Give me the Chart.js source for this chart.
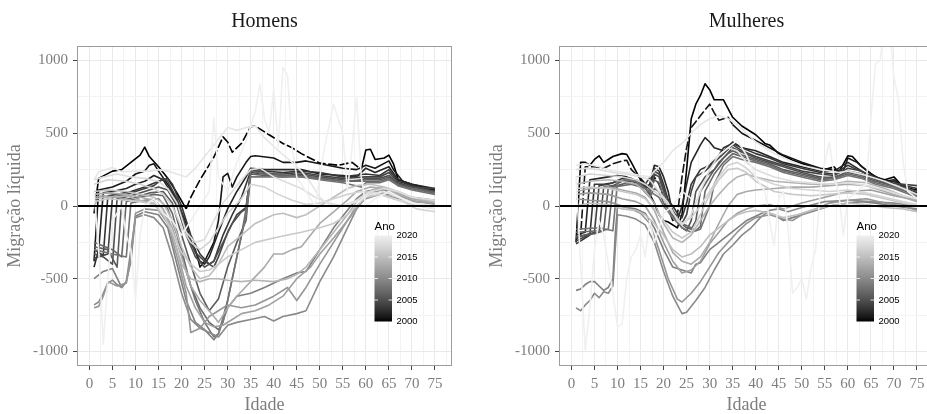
<!DOCTYPE html>
<html lang="pt">
<head>
<meta charset="utf-8">
<script src="https://cdn.jsdelivr.net/npm/chart.js@4.4.1/dist/chart.umd.min.js"></script>
<style>
  html, body { margin: 0; padding: 0; background: #fff; overflow: hidden; }
  body { width: 927px; height: 414px; position: relative; }
  .painel { position: absolute; top: 0; width: 463px; height: 414px; }
  #painelHomens { left: 0; }
  #painelMulheres { left: 482px; }
</style>
</head>
<body>
<div class="painel" id="painelHomens"><canvas id="graficoHomens" width="463" height="414"></canvas></div>
<div class="painel" id="painelMulheres"><canvas id="graficoMulheres" width="463" height="414"></canvas></div>
<script>
const anos = [2000, 2001, 2002, 2003, 2004, 2005, 2006, 2007, 2008, 2009, 2010,
              2011, 2012, 2013, 2014, 2015, 2016, 2017, 2018, 2019, 2020];
const anoRotulos = [2000, 2005, 2010, 2015, 2020];

const idadeRotulos = [0, 5, 10, 15, 20, 25, 30, 35, 40, 45, 50, 55, 60, 65, 70, 75];
const idadeGradeMenor = [-2.5, 2.5, 7.5, 12.5, 17.5, 22.5, 27.5, 32.5, 37.5, 42.5, 47.5, 52.5, 57.5, 62.5, 67.5, 72.5, 77.5];
const migracaoRotulos = [-1000, -500, 0, 500, 1000];
const migracaoGradeMenor = [-750, -250, 250, 750];

// [idade, migração líquida] por ano — homens
const homens2000 = [[1,-50],[2,190],[5,240],[7,250],[9,300],[11,350],[12,405],[13,340],[15,270],[17,190],[19,90],[21,-20],[22,60],[24,180],[27,335],[29,475],[30,440],[31,370],[33,430],[35,545],[36,550],[39,490],[42,430],[44,400],[46,360],[50,295],[54,280],[57,300],[59,250],[60,385],[61,390],[62,320],[64,330],[65,350],[66,290],[67,180],[70,150],[75,110]];
const homens2001 = [[1,-380],[2,110],[5,130],[8,170],[10,220],[12,240],[13,280],[14,290],[15,240],[17,150],[19,40],[21,-120],[22,-250],[23,-300],[24,-420],[25,-380],[27,-250],[28,-100],[29,200],[30,225],[31,130],[32,200],[34,300],[35,340],[36,345],[40,330],[42,300],[45,300],[47,310],[50,290],[55,260],[58,250],[60,280],[62,260],[65,310],[66,250],[68,170],[70,140],[75,110]];
const homens2002 = [[1,-420],[2,-300],[3,90],[5,100],[8,120],[10,150],[12,170],[14,210],[16,180],[18,80],[20,-60],[22,-250],[24,-380],[25,-400],[26,-350],[28,-180],[30,-20],[32,100],[34,200],[35,260],[38,250],[42,250],[46,250],[50,220],[55,210],[58,200],[60,260],[62,230],[65,270],[67,180],[70,150],[75,120]];
const homens2003 = [[1,-300],[3,-340],[4,70],[6,80],[9,100],[12,130],[15,170],[17,190],[18,150],[20,0],[22,-200],[24,-330],[26,-400],[27,-380],[29,-200],[31,-60],[33,60],[34,150],[35,240],[38,240],[42,230],[46,240],[50,230],[55,200],[60,220],[63,210],[65,250],[67,170],[70,140],[75,100]];
const homens2004 = [[1,-360],[4,-330],[5,60],[8,80],[11,110],[14,140],[16,190],[17,170],[19,50],[21,-150],[23,-320],[25,-380],[27,-420],[28,-350],[30,-180],[32,-60],[34,-10],[35,230],[38,220],[42,220],[46,230],[50,210],[55,190],[60,200],[63,200],[65,230],[67,160],[70,130],[75,120]];
const homens2005 = [[1,-330],[3,-350],[5,-400],[6,50],[9,70],[12,100],[15,130],[17,110],[19,0],[21,-200],[23,-350],[25,-420],[27,-380],[29,-250],[31,-120],[33,-40],[34,-20],[35,250],[38,230],[42,210],[46,220],[50,200],[55,180],[58,170],[60,190],[63,190],[65,210],[67,150],[70,130],[75,100]];
const homens2006 = [[1,-280],[4,-300],[6,-420],[7,40],[10,60],[13,90],[16,100],[18,20],[20,-200],[22,-400],[24,-600],[26,-720],[28,-640],[30,-420],[32,-250],[34,-100],[35,220],[38,210],[42,200],[46,210],[50,190],[55,170],[60,180],[63,180],[65,200],[67,150],[70,120],[75,90]];
const homens2007 = [[1,-250],[5,-300],[7,-350],[8,30],[11,60],[14,80],[16,70],[18,-50],[20,-300],[22,-550],[24,-700],[26,-800],[28,-850],[29,-800],[31,-500],[33,-200],[34,-20],[35,240],[38,220],[42,210],[46,200],[50,190],[55,170],[60,170],[63,170],[65,190],[67,140],[70,120],[75,90]];
const homens2008 = [[1,-300],[5,-330],[8,-350],[9,20],[12,40],[15,50],[17,-20],[19,-200],[21,-450],[23,-650],[25,-800],[27,-900],[28,-880],[30,-650],[32,-350],[34,-60],[35,200],[38,200],[42,200],[46,200],[50,180],[55,160],[59,130],[60,160],[63,160],[65,180],[67,140],[70,110],[75,80]];
const homens2009 = [[1,-500],[3,-450],[5,-430],[7,-560],[8,-520],[9,-380],[10,-70],[12,-40],[15,-60],[17,-150],[19,-400],[21,-650],[23,-800],[25,-850],[27,-920],[28,-880],[30,-700],[32,-620],[35,-600],[38,-560],[42,-500],[45,-460],[47,-450],[50,-300],[53,-150],[56,-30],[58,50],[60,100],[63,120],[65,100],[70,60],[75,40]];
const homens2010 = [[1,-680],[2,-660],[3,-600],[4,-530],[5,-510],[6,-540],[7,-560],[8,-520],[9,-300],[10,-80],[12,-60],[14,-80],[16,-150],[18,-350],[20,-600],[22,-780],[24,-840],[26,-870],[28,-900],[30,-820],[32,-800],[35,-780],[38,-760],[40,-790],[42,-760],[45,-740],[47,-720],[50,-520],[53,-350],[56,-150],[58,-20],[60,60],[62,100],[65,80],[70,50],[75,30]];
const homens2011 = [[1,-700],[2,-690],[3,-620],[4,-520],[6,-550],[8,-530],[9,-350],[10,-50],[12,-20],[15,-30],[17,-120],[19,-350],[21,-600],[22,-870],[24,-840],[26,-760],[28,-720],[30,-680],[33,-700],[36,-680],[40,-620],[43,-560],[45,-650],[47,-560],[50,-400],[53,-250],[56,-100],[58,0],[60,50],[63,80],[66,60],[70,30],[75,20]];
const homens2012 = [[1,60],[3,70],[6,60],[9,40],[12,30],[15,0],[17,-100],[19,-300],[21,-550],[23,-700],[25,-800],[27,-830],[29,-820],[31,-780],[33,-740],[36,-720],[39,-680],[42,-620],[45,-500],[48,-420],[50,-330],[53,-220],[56,-100],[58,-20],[60,60],[63,110],[66,80],[70,40],[75,10]];
const homens2013 = [[1,80],[4,90],[8,80],[11,60],[14,40],[16,-20],[18,-150],[20,-350],[22,-550],[24,-650],[26,-720],[28,-800],[30,-700],[32,-620],[35,-520],[38,-420],[40,-330],[42,-330],[44,-300],[46,-280],[48,-200],[50,-120],[53,-40],[56,40],[58,100],[61,130],[64,120],[67,80],[70,50],[75,20]];
const homens2014 = [[1,50],[4,60],[8,70],[11,40],[14,20],[16,-40],[18,-200],[20,-400],[22,-500],[24,-520],[26,-500],[28,-500],[30,-510],[33,-520],[36,-510],[40,-520],[43,-500],[45,-470],[47,-420],[50,-300],[53,-180],[56,-60],[58,30],[60,90],[63,130],[66,100],[70,60],[75,30]];
const homens2015 = [[1,100],[4,110],[8,100],[11,80],[14,60],[16,20],[18,-100],[20,-280],[22,-420],[24,-500],[26,-480],[28,-400],[30,-280],[33,-200],[36,-120],[40,-60],[42,-50],[45,-80],[47,-60],[50,0],[53,60],[56,120],[58,140],[61,150],[64,130],[67,100],[70,60],[75,30]];
const homens2016 = [[1,30],[4,50],[8,40],[11,30],[14,10],[16,-60],[18,-180],[20,-320],[22,-400],[24,-450],[26,-440],[28,-400],[30,-350],[33,-300],[36,-250],[40,-220],[43,-200],[46,-180],[50,-150],[53,-120],[56,-60],[58,0],[60,60],[63,80],[66,50],[70,10],[75,-20]];
const homens2017 = [[1,150],[4,180],[8,170],[11,150],[14,120],[16,80],[18,0],[20,-150],[22,-250],[24,-300],[26,-250],[28,-150],[30,-50],[33,50],[35,150],[38,130],[41,80],[44,40],[47,10],[50,20],[53,50],[56,80],[59,100],[62,90],[65,60],[68,30],[71,-20],[75,-40]];
const homens2018 = [[1,180],[3,200],[6,220],[9,200],[12,190],[15,170],[17,120],[19,20],[21,-180],[23,-250],[25,-230],[27,-100],[29,20],[31,100],[33,180],[35,250],[37,260],[40,200],[43,160],[46,120],[49,60],[52,20],[55,0],[58,40],[61,100],[64,120],[67,100],[70,60],[75,40]];
const homens2019 = [[1,180],[2,235],[5,265],[7,235],[10,240],[13,240],[15,250],[17,240],[19,220],[21,200],[23,260],[25,340],[27,420],[29,500],[30,540],[32,520],[34,540],[36,550],[38,470],[41,380],[44,300],[46,240],[48,160],[50,60],[52,10],[55,0],[58,30],[61,80],[64,100],[67,60],[70,20],[75,0]];
const homens2020 = [[1,100],[2,-300],[3,-950],[4,-500],[5,-100],[7,0],[8,-200],[9,-300],[10,-640],[11,-200],[12,0],[14,50],[16,-50],[18,-100],[20,-200],[22,-100],[24,0],[26,100],[27,610],[28,200],[30,100],[32,300],[34,450],[36,650],[37,840],[38,600],[39,500],[40,808],[41,400],[42,954],[43,900],[44,400],[45,200],[47,100],[49,0],[51,400],[53,700],[55,500],[56,100],[57,400],[58,750],[59,200],[60,0],[62,50],[65,100],[68,50],[72,0],[75,-20]];

// [idade, migração líquida] por ano — mulheres
const mulheres2000 = [[1,-250],[2,300],[3,300],[4,280],[5,320],[6,345],[7,300],[8,320],[9,340],[11,360],[12,355],[13,300],[14,240],[15,180],[17,80],[18,20],[19,-60],[20,-100],[21,-110],[23,-150],[24,-60],[25,250],[26,600],[27,700],[28,760],[29,840],[30,800],[31,730],[33,730],[35,610],[37,550],[40,490],[42,430],[43,420],[45,360],[48,315],[52,270],[55,250],[57,270],[58,230],[60,345],[61,340],[63,270],[66,200],[68,180],[70,200],[72,130],[75,110]];
const mulheres2001 = [[1,-230],[2,-200],[3,270],[5,270],[7,260],[9,290],[11,310],[12,315],[13,250],[15,190],[17,120],[18,200],[19,150],[20,60],[21,-20],[22,-100],[23,-60],[24,200],[25,400],[26,540],[27,580],[28,620],[29,660],[30,700],[31,640],[32,590],[34,610],[35,560],[37,500],[40,450],[43,400],[46,350],[50,300],[54,260],[57,250],[59,240],[60,330],[62,300],[65,220],[68,170],[70,180],[72,130],[75,100]];
const mulheres2002 = [[1,-200],[3,-180],[4,180],[6,190],[8,200],[10,210],[12,200],[14,170],[16,120],[17,150],[18,280],[19,270],[20,200],[21,100],[22,-60],[23,-100],[24,0],[25,150],[26,300],[28,420],[29,470],[30,440],[31,400],[33,380],[35,440],[37,400],[40,380],[43,340],[46,300],[50,270],[54,240],[57,240],[60,300],[62,260],[65,200],[68,160],[70,170],[75,90]];
const mulheres2003 = [[1,-260],[4,-200],[5,150],[7,150],[9,160],[11,190],[13,190],[15,160],[17,120],[18,260],[19,240],[20,150],[21,40],[22,0],[23,-50],[24,-80],[25,20],[26,150],[27,200],[28,250],[30,280],[32,350],[33,400],[35,430],[37,400],[40,360],[43,330],[46,290],[50,260],[54,230],[57,220],[60,280],[62,250],[65,210],[68,170],[71,150],[75,120]];
const mulheres2004 = [[1,-240],[5,-180],[6,140],[8,150],[10,170],[12,180],[14,180],[16,150],[18,240],[19,220],[20,120],[21,40],[22,-30],[23,-80],[24,-120],[25,-60],[26,100],[27,200],[29,240],[31,300],[33,360],[35,420],[37,380],[40,340],[43,310],[46,280],[50,240],[54,220],[57,210],[60,260],[63,240],[66,190],[69,160],[72,150],[75,140]];
const mulheres2005 = [[1,-220],[4,-190],[6,-180],[7,130],[9,140],[11,170],[13,170],[15,150],[17,100],[18,220],[19,200],[20,100],[21,0],[22,-60],[24,-150],[25,-170],[26,-100],[27,100],[29,200],[31,250],[33,330],[35,400],[37,370],[40,330],[43,300],[46,270],[50,230],[54,200],[57,190],[60,240],[63,220],[66,180],[69,150],[72,130],[75,100]];
const mulheres2006 = [[1,-210],[5,-190],[7,-170],[8,130],[10,140],[12,160],[14,150],[16,120],[17,80],[18,180],[19,160],[20,60],[21,-20],[23,-100],[25,-150],[26,-160],[27,-100],[28,100],[30,200],[32,300],[34,360],[35,380],[37,350],[40,320],[43,290],[46,250],[50,220],[54,190],[57,200],[60,230],[63,210],[66,170],[70,140],[75,80]];
const mulheres2007 = [[1,-180],[6,-170],[8,-160],[9,130],[11,140],[13,150],[15,130],[17,60],[18,120],[19,100],[20,20],[22,-60],[24,-120],[26,-150],[27,-170],[28,-140],[29,100],[31,220],[33,300],[35,360],[37,340],[40,310],[43,280],[46,240],[50,210],[54,180],[57,190],[60,220],[63,200],[66,160],[70,130],[75,70]];
const mulheres2008 = [[1,-160],[6,-150],[9,-170],[10,170],[12,180],[14,170],[16,120],[18,80],[19,60],[20,0],[22,-80],[24,-150],[26,-180],[28,-160],[30,0],[31,150],[33,280],[35,340],[37,320],[40,300],[43,270],[46,230],[50,200],[54,170],[57,180],[60,210],[63,190],[66,150],[70,120],[75,60]];
const mulheres2009 = [[1,-580],[2,-570],[3,-540],[4,-520],[5,-520],[6,-550],[7,-580],[8,-560],[9,-500],[9.5,-200],[10,0],[12,-10],[14,-20],[16,-50],[18,-150],[20,-300],[22,-420],[24,-440],[26,-460],[27,-400],[28,-390],[30,-300],[32,-250],[34,-200],[36,-150],[38,-100],[40,-70],[42,-40],[44,-60],[46,-100],[48,-80],[50,-60],[53,-30],[56,0],[60,20],[63,30],[66,20],[70,0],[75,-20]];
const mulheres2010 = [[1,-700],[2,-720],[3,-680],[4,-650],[5,-600],[6,-630],[7,-590],[8,-600],[9,-550],[9.5,-300],[10,-60],[12,-70],[14,-90],[16,-130],[18,-250],[20,-450],[22,-620],[24,-740],[25,-730],[27,-650],[29,-560],[31,-440],[33,-330],[35,-270],[37,-200],[39,-150],[41,-80],[43,-30],[45,-20],[47,-40],[50,-10],[55,30],[60,40],[65,30],[70,20],[75,0]];
const mulheres2011 = [[1,50],[4,40],[8,30],[11,0],[13,-20],[15,-50],[17,-120],[19,-300],[21,-500],[23,-640],[24,-660],[26,-600],[28,-520],[30,-420],[32,-320],[34,-250],[36,-180],[38,-120],[40,-80],[43,-60],[46,-90],[48,-100],[50,-60],[53,-20],[56,20],[60,40],[64,50],[68,20],[72,0],[75,-30]];
const mulheres2012 = [[1,80],[4,90],[8,80],[11,50],[14,30],[16,0],[18,-100],[20,-250],[22,-380],[24,-460],[26,-440],[28,-380],[30,-260],[32,-180],[34,-100],[36,-50],[38,-20],[40,0],[43,10],[46,-20],[50,20],[55,60],[60,100],[65,110],[70,70],[75,40]];
const mulheres2013 = [[1,100],[4,120],[8,130],[11,110],[14,90],[16,60],[18,-30],[20,-180],[22,-320],[24,-380],[26,-400],[28,-350],[30,-250],[32,-120],[34,0],[36,80],[38,100],[40,110],[44,120],[48,130],[52,130],[56,140],[60,150],[64,140],[68,100],[72,60],[75,30]];
const mulheres2014 = [[1,150],[4,170],[8,180],[11,170],[14,150],[16,100],[18,20],[20,-120],[22,-220],[24,-250],[26,-200],[28,-100],[30,0],[32,80],[34,150],[36,200],[38,220],[40,200],[44,170],[48,160],[52,150],[56,150],[60,170],[64,160],[68,120],[72,70],[75,40]];
const mulheres2015 = [[1,0],[4,20],[8,10],[11,-20],[14,-30],[16,-60],[18,-120],[20,-200],[22,-300],[24,-350],[26,-330],[28,-280],[30,-200],[32,-150],[34,-100],[36,-60],[38,-40],[40,-30],[43,-50],[46,-80],[49,-60],[52,-30],[56,0],[60,20],[64,10],[68,-10],[72,-20],[75,-40]];
const mulheres2016 = [[1,120],[4,130],[8,120],[11,100],[14,80],[16,50],[18,-20],[20,-100],[22,-180],[24,-220],[26,-180],[28,-60],[30,80],[32,180],[34,250],[36,260],[38,230],[40,170],[44,100],[48,80],[52,70],[56,80],[60,90],[64,80],[68,50],[72,20],[75,0]];
const mulheres2017 = [[1,200],[4,220],[8,210],[11,200],[14,180],[16,150],[18,100],[20,50],[22,-50],[24,-120],[26,-80],[28,0],[30,100],[32,200],[34,280],[36,300],[38,260],[40,200],[44,150],[48,120],[52,110],[56,100],[60,110],[64,90],[68,60],[72,30],[75,10]];
const mulheres2018 = [[1,250],[3,260],[6,250],[9,230],[12,220],[15,200],[17,180],[19,100],[21,20],[23,-100],[24,-130],[26,-60],[28,100],[30,250],[32,350],[34,400],[36,380],[38,300],[40,250],[44,200],[48,170],[52,160],[56,150],[60,160],[64,140],[68,110],[72,70],[75,50]];
const mulheres2019 = [[1,280],[3,290],[6,270],[9,240],[12,230],[15,210],[17,200],[18,240],[20,300],[22,380],[24,430],[26,500],[28,560],[30,600],[32,620],[34,600],[36,560],[38,500],[40,440],[43,380],[46,330],[50,280],[54,250],[58,230],[60,240],[64,210],[68,170],[72,120],[75,80]];
const mulheres2020 = [[1,200],[2,-400],[3,-990],[4,-700],[5,-300],[6,-100],[7,-200],[8,-400],[9,-600],[10,-830],[11,-810],[12,-500],[13,-350],[14,-300],[15,-200],[16,-350],[17,-100],[18,-250],[19,-150],[20,-50],[22,0],[24,100],[26,50],[28,200],[30,300],[32,350],[34,400],[36,450],[38,350],[40,200],[42,100],[43,-100],[44,-270],[45,50],[46,100],[47,-150],[48,-600],[49,-560],[50,-500],[51,-640],[52,-430],[53,-300],[54,100],[55,300],[56,440],[57,200],[58,100],[59,-200],[60,50],[62,100],[64,150],[65,600],[66,977],[67,1000],[68,1250],[69,1250],[70,885],[71,726],[72,300],[73,100],[75,50]];

const homens = [homens2000, homens2001, homens2002, homens2003, homens2004, homens2005, homens2006,
  homens2007, homens2008, homens2009, homens2010, homens2011, homens2012, homens2013, homens2014,
  homens2015, homens2016, homens2017, homens2018, homens2019, homens2020];
const mulheres = [mulheres2000, mulheres2001, mulheres2002, mulheres2003, mulheres2004, mulheres2005,
  mulheres2006, mulheres2007, mulheres2008, mulheres2009, mulheres2010, mulheres2011, mulheres2012,
  mulheres2013, mulheres2014, mulheres2015, mulheres2016, mulheres2017, mulheres2018, mulheres2019, mulheres2020];

const fonteSerif = '"Liberation Serif", "DejaVu Serif", serif';
const fonteSans = '"Liberation Sans", Arial, sans-serif';
const cinzaTexto = '#7d7d7d';

// escala de cinza do preto (2000) ao quase branco (2020), clareando os tons médios
function corAno(ano) {
  const t = (ano - anos[0]) / (anos[anos.length - 1] - anos[0]);
  const g = Math.round(Math.pow(t, 0.8) * 240);
  return `rgb(${g},${g},${g})`;
}

// trechos tracejados de algumas séries escuras
const tracejados = {
  homens2000: [21, 59],
  mulheres2001: [1, 35]
};

function series(lista, prefixo) {
  return lista.map((pontos, i) => {
    const faixa = tracejados[prefixo + anos[i]];
    return {
      label: String(anos[i]),
      data: pontos,
      borderColor: corAno(anos[i]),
      borderWidth: 1.6,
      borderJoinStyle: 'round',
      pointRadius: 0,
      tension: 0,
      order: anos.length - 1 - i,
      segment: faixa ? {
        borderDash: c => (c.p0.parsed.x >= faixa[0] && c.p1.parsed.x <= faixa[1]) ? [9, 2.5] : undefined
      } : undefined
    };
  });
}

// linha do zero e contorno do painel
const moldura = {
  id: 'moldura',
  afterDatasetsDraw(chart) {
    const { ctx, chartArea: a, scales: { y } } = chart;
    const y0 = y.getPixelForValue(0);
    ctx.save();
    ctx.strokeStyle = '#000';
    ctx.lineWidth = 2.2;
    ctx.beginPath();
    ctx.moveTo(a.left, y0);
    ctx.lineTo(a.right, y0);
    ctx.stroke();
    ctx.strokeStyle = '#9c9c9c';
    ctx.lineWidth = 1;
    ctx.strokeRect(a.left + 0.5, a.top + 0.5, a.width - 1, a.height - 1);
    ctx.restore();
  }
};

// barra de cores da legenda "Ano"
const barraAno = {
  id: 'barraAno',
  afterDraw(chart) {
    const { ctx, chartArea: a } = chart;
    const x0 = a.right - 77.5, w = 17.5;
    const topo = a.top + 189.5, base = a.top + 275.5;
    const primeiro = anos[0], ultimo = anos[anos.length - 1];
    ctx.save();
    const grad = ctx.createLinearGradient(0, base, 0, topo);
    anos.forEach(ano => grad.addColorStop((ano - primeiro) / (ultimo - primeiro), corAno(ano)));
    ctx.fillStyle = grad;
    ctx.fillRect(x0, topo, w, base - topo);
    ctx.strokeStyle = 'rgba(255,255,255,0.8)';
    ctx.lineWidth = 1;
    ctx.fillStyle = '#000';
    ctx.font = `11.5px ${fonteSans}`;
    ctx.textBaseline = 'alphabetic';
    ctx.fillText('Ano', x0, topo - 6);
    ctx.font = `9.5px ${fonteSans}`;
    ctx.textBaseline = 'middle';
    anoRotulos.forEach(ano => {
      const yy = base - (ano - primeiro) / (ultimo - primeiro) * (base - topo);
      if (ano !== primeiro && ano !== ultimo) {
        ctx.beginPath();
        ctx.moveTo(x0, yy); ctx.lineTo(x0 + 3.5, yy);
        ctx.moveTo(x0 + w - 3.5, yy); ctx.lineTo(x0 + w, yy);
        ctx.stroke();
      }
      ctx.fillText(String(ano), x0 + w + 4.5, yy);
    });
    ctx.restore();
  }
};

function opcoes(titulo) {
  const ehRotuloX = v => idadeRotulos.includes(v);
  const ehRotuloY = v => migracaoRotulos.includes(v);
  return {
    responsive: false,
    animation: false,
    events: [],
    layout: { padding: { left: 0, right: 11, top: 0, bottom: 0 } },
    plugins: {
      legend: { display: false },
      tooltip: { enabled: false },
      title: {
        display: true, text: titulo, fullSize: false, color: '#1a1a1a',
        font: { family: fonteSerif, size: 20, weight: 'normal', lineHeight: 1.2 },
        padding: { top: 10, bottom: 12 }
      }
    },
    scales: {
      x: {
        type: 'linear', min: -2.7, max: 78.7,
        afterBuildTicks: s => {
          s.ticks = idadeRotulos.concat(idadeGradeMenor).sort((p, q) => p - q).map(v => ({ value: v }));
        },
        afterFit: s => { s.height = 48; },
        border: { display: false },
        grid: {
          color: c => ehRotuloX(c.tick.value) ? '#e9e9e9' : '#f3f3f3',
          lineWidth: 1,
          tickLength: 4,
          tickColor: c => ehRotuloX(c.tick.value) ? '#444' : 'rgba(0,0,0,0)'
        },
        ticks: {
          autoSkip: false, maxRotation: 0, padding: 5, color: cinzaTexto,
          font: { family: fonteSerif, size: 15 },
          callback: v => ehRotuloX(v) ? String(v) : ''
        },
        title: {
          display: true, text: 'Idade', color: cinzaTexto,
          font: { family: fonteSerif, size: 18, lineHeight: 1 }, padding: 0
        }
      },
      y: {
        type: 'linear', min: -1100, max: 1100,
        afterBuildTicks: s => {
          s.ticks = migracaoRotulos.concat(migracaoGradeMenor).sort((p, q) => p - q).map(v => ({ value: v }));
        },
        afterFit: s => { s.width = 77; },
        border: { display: false },
        grid: {
          color: c => ehRotuloY(c.tick.value) ? '#e9e9e9' : '#f3f3f3',
          lineWidth: 1,
          tickLength: 4,
          tickColor: c => ehRotuloY(c.tick.value) ? '#444' : 'rgba(0,0,0,0)'
        },
        ticks: {
          padding: 5, color: cinzaTexto,
          font: { family: fonteSerif, size: 15 },
          callback: v => ehRotuloY(v) ? String(v) : ''
        },
        title: {
          display: true, text: 'Migração líquida', color: cinzaTexto,
          font: { family: fonteSerif, size: 18, lineHeight: 1.2 }, padding: { top: 4, bottom: 0 }
        }
      }
    }
  };
}

new Chart(document.getElementById('graficoHomens'), {
  type: 'line',
  data: { datasets: series(homens, 'homens') },
  options: opcoes('Homens'),
  plugins: [moldura, barraAno]
});

new Chart(document.getElementById('graficoMulheres'), {
  type: 'line',
  data: { datasets: series(mulheres, 'mulheres') },
  options: opcoes('Mulheres'),
  plugins: [moldura, barraAno]
});
</script>
</body>
</html>
